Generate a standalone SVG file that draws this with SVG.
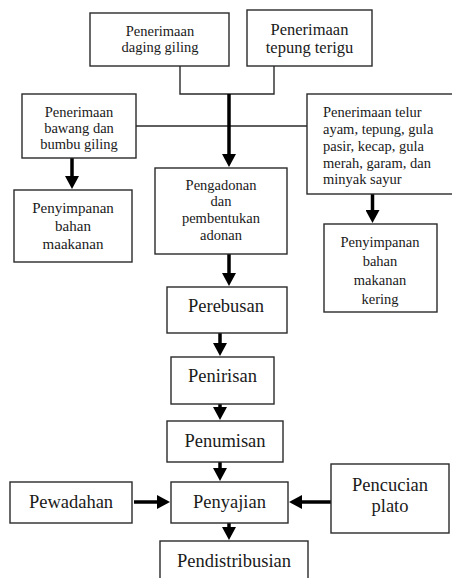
<svg xmlns="http://www.w3.org/2000/svg" width="452" height="578" viewBox="0 0 452 578">
<style>
.box{fill:#fff;stroke:#2a2a2a;stroke-width:1.4}
.thin{fill:none;stroke:#2a2a2a;stroke-width:1.4}
.arr{fill:none;stroke:#000;stroke-width:3.5}
text{fill:#1a1a1a}
.s{font-size:14.5px;text-anchor:middle}
.sl{font-size:14.5px}
.b{font-size:18.5px;text-anchor:middle}
</style>
<defs>
<marker id="ah" markerUnits="userSpaceOnUse" markerWidth="14" markerHeight="14" viewBox="0 0 14 14" refX="1" refY="7" orient="auto">
<path d="M0,0 L13,7 L0,14 z" fill="#000"/>
</marker>
</defs>
<rect width="452" height="578" fill="#fff"/>
<g id="connectors">
<polyline class="thin" points="180,66 180,94 274,94 274,66"/>
<line class="thin" x1="136" y1="126" x2="307" y2="126"/>
<line class="arr" x1="229" y1="94" x2="229" y2="155" marker-end="url(#ah)"/>
<line class="arr" x1="72" y1="158" x2="72" y2="177" marker-end="url(#ah)"/>
<line class="arr" x1="372.5" y1="194" x2="372.5" y2="211" marker-end="url(#ah)"/>
<line class="arr" x1="229" y1="254" x2="229" y2="274" marker-end="url(#ah)"/>
<line class="arr" x1="220" y1="333" x2="220" y2="344" marker-end="url(#ah)"/>
<line class="arr" x1="220" y1="404" x2="220" y2="408" marker-end="url(#ah)"/>
<line class="arr" x1="220" y1="462" x2="220" y2="469" marker-end="url(#ah)"/>
<line class="arr" x1="229" y1="523" x2="229" y2="528" marker-end="url(#ah)"/>
<line class="arr" x1="134" y1="502" x2="158" y2="502" marker-end="url(#ah)"/>
<line class="arr" x1="331" y1="502" x2="301" y2="502" marker-end="url(#ah)"/>
</g>
<g font-family="'Liberation Serif', 'DejaVu Serif', Tinos, 'Noto Serif', 'Times New Roman', Times, FreeSerif, serif">
<g id="n-daging">
<rect class="box" x="90" y="13" width="139" height="53"/>
<text class="s" x="160" y="36">Penerimaan</text>
<text class="s" x="160" y="52">daging giling</text>
</g>
<g id="n-tepung">
<rect class="box" x="247" y="10" width="125" height="56"/>
<text class="s" x="309.5" y="35" style="font-size:16.5px">Penerimaan</text>
<text class="s" x="309.5" y="53" style="font-size:16.5px">tepung terigu</text>
</g>
<g id="n-bawang">
<rect class="box" x="22" y="94" width="114" height="64"/>
<text class="s" x="79" y="117">Penerimaan</text>
<text class="s" x="79" y="133">bawang dan</text>
<text class="s" x="79" y="149">bumbu giling</text>
</g>
<g id="n-telur">
<rect class="box" x="307" y="94" width="160" height="100"/>
<text class="sl" x="323" y="117">Penerimaan telur</text>
<text class="sl" x="323" y="134">ayam, tepung, gula</text>
<text class="sl" x="323" y="151">pasir, kecap, gula</text>
<text class="sl" x="323" y="168">merah, garam, dan</text>
<text class="sl" x="323" y="184">minyak sayur</text>
</g>
<g id="n-simpan1">
<rect class="box" x="14" y="190" width="118" height="72"/>
<text class="s" x="73" y="213" style="font-size:15px">Penyimpanan</text>
<text class="s" x="73" y="231" style="font-size:15px">bahan</text>
<text class="s" x="73" y="249" style="font-size:15px">maakanan</text>
</g>
<g id="n-adonan">
<rect class="box" x="155" y="168" width="132" height="86"/>
<text class="s" x="221" y="190">Pengadonan</text>
<text class="s" x="221" y="206">dan</text>
<text class="s" x="221" y="223">pembentukan</text>
<text class="s" x="221" y="240">adonan</text>
</g>
<g id="n-simpan2">
<rect class="box" x="324" y="224" width="113" height="88"/>
<text class="s" x="380" y="247">Penyimpanan</text>
<text class="s" x="380" y="266">bahan</text>
<text class="s" x="380" y="285">makanan</text>
<text class="s" x="380" y="304">kering</text>
</g>
<g id="n-rebus">
<rect class="box" x="167" y="287" width="120" height="46"/>
<text class="b" x="226" y="312">Perebusan</text>
</g>
<g id="n-tiris">
<rect class="box" x="171" y="357" width="103" height="47"/>
<text class="b" x="222.5" y="382">Penirisan</text>
</g>
<g id="n-tumis">
<rect class="box" x="167" y="421" width="116" height="41"/>
<text class="b" x="225" y="447">Penumisan</text>
</g>
<g id="n-wadah">
<rect class="box" x="10" y="482" width="122" height="41"/>
<text class="b" x="71" y="508">Pewadahan</text>
</g>
<g id="n-saji">
<rect class="box" x="171" y="482" width="117" height="41"/>
<text class="b" x="229.5" y="508">Penyajian</text>
</g>
<g id="n-cuci">
<rect class="box" x="331" y="464" width="118" height="69"/>
<text class="b" x="390" y="491">Pencucian</text>
<text class="b" x="390" y="512">plato</text>
</g>
<g id="n-distribusi">
<rect class="box" x="160" y="541" width="148" height="45"/>
<text class="b" x="234" y="567">Pendistribusian</text>
</g>
</g>
</svg>
